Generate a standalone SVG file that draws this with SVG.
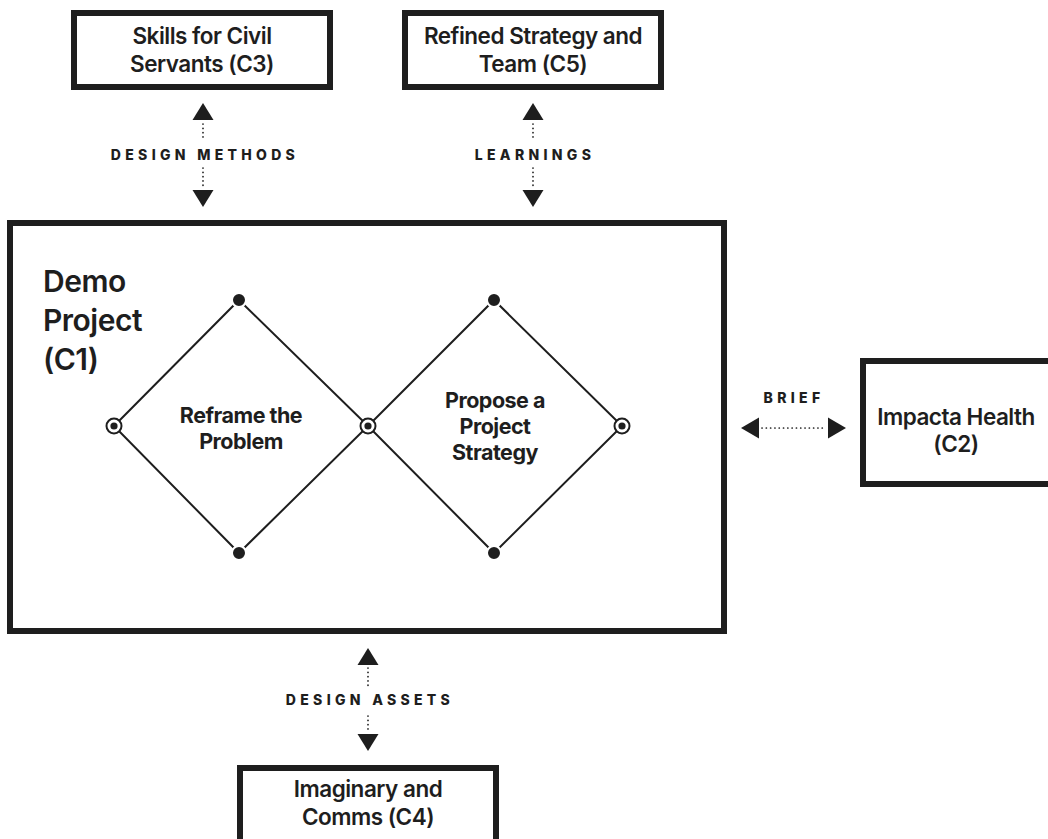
<svg xmlns="http://www.w3.org/2000/svg" width="1048" height="839" viewBox="0 0 1048 839">
  <style>
    .box { fill: #fff; stroke: #1e1e1e; stroke-width: 6; }
    .title { font-family: Inter, "Liberation Sans", sans-serif; font-size: 22.5px; font-weight: 600; fill: #1e1e1e; text-anchor: middle; letter-spacing: -0.5px; }
    .big { font-family: Inter, "Liberation Sans", sans-serif; font-size: 30px; font-weight: 600; fill: #1e1e1e; letter-spacing: -0.5px; }
    .phase { font-family: Inter, "Liberation Sans", sans-serif; font-size: 21.5px; font-weight: 700; fill: #1e1e1e; text-anchor: middle; letter-spacing: -0.5px; }
    .flow { font-family: Inter, "Liberation Sans", sans-serif; font-size: 14px; font-weight: 800; fill: #1e1e1e; text-anchor: middle; letter-spacing: 4.3px; }
    .edge { fill: none; stroke: #1e1e1e; stroke-width: 2; }
    .dots { fill: none; stroke: #1e1e1e; stroke-width: 1.7; stroke-linecap: round; stroke-dasharray: 0.1 4.2; }
    .head { fill: #1e1e1e; }
    .dot { fill: #1e1e1e; stroke: #fff; stroke-width: 2; }
    .ring { fill: #fff; stroke: #1e1e1e; stroke-width: 2; }
  </style>
  <defs>
    <path id="tri-up" class="head" d="M0,0 L10.5,17 L-10.5,17 Z"/>
    <path id="tri-down" class="head" d="M0,0 L10.5,-17 L-10.5,-17 Z"/>
    <path id="tri-left" class="head" d="M0,0 L18,-10.5 L18,10.5 Z"/>
    <path id="tri-right" class="head" d="M0,0 L-18,-10.5 L-18,10.5 Z"/>
    <g id="ring-node">
      <circle class="ring" r="7.5"/>
      <circle class="head" r="3.6"/>
    </g>
  </defs>

  <rect width="1048" height="839" fill="#fff"/>

  <!-- Connectors between the project and its surrounding outputs -->
  <g id="connectors">
    <!-- design methods: C1 <-> C3 -->
    <use href="#tri-up" x="203" y="103"/>
    <line class="dots" x1="203" y1="124" x2="203" y2="138"/>
    <line class="dots" x1="203" y1="168" x2="203" y2="186"/>
    <use href="#tri-down" x="203" y="207"/>
    <text class="flow" x="205" y="160">DESIGN METHODS</text>

    <!-- learnings: C1 <-> C5 -->
    <use href="#tri-up" x="533" y="103"/>
    <line class="dots" x1="533" y1="124" x2="533" y2="138"/>
    <line class="dots" x1="533" y1="168" x2="533" y2="186"/>
    <use href="#tri-down" x="533" y="207"/>
    <text class="flow" x="535" y="160">LEARNINGS</text>

    <!-- brief: C1 <-> C2 -->
    <use href="#tri-left" x="741" y="428"/>
    <line class="dots" x1="762" y1="428" x2="826" y2="428"/>
    <use href="#tri-right" x="846" y="428"/>
    <text class="flow" x="794" y="403">BRIEF</text>

    <!-- design assets: C1 <-> C4 -->
    <use href="#tri-up" x="368" y="648"/>
    <line class="dots" x1="368" y1="668" x2="368" y2="688"/>
    <line class="dots" x1="368" y1="716" x2="368" y2="732"/>
    <use href="#tri-down" x="368" y="751"/>
    <text class="flow" x="370" y="705">DESIGN ASSETS</text>
  </g>

  <g id="c3">
    <rect class="box" x="74" y="13" width="256" height="74"/>
    <text class="title" x="202" y="44">Skills for Civil</text>
    <text class="title" x="202" y="72">Servants (C3)</text>
  </g>

  <g id="c5">
    <rect class="box" x="405" y="13" width="256" height="74"/>
    <text class="title" x="533" y="44">Refined Strategy and</text>
    <text class="title" x="533" y="72">Team (C5)</text>
  </g>

  <g id="c1">
    <rect class="box" x="10" y="223" width="714" height="408"/>
    <text class="big" x="43" y="292">Demo</text>
    <text class="big" x="43" y="331">Project</text>
    <text class="big" x="43" y="370">(C1)</text>

    <!-- double diamond -->
    <path class="edge" d="M114,426 L239,300 L368,426 L239,553 Z"/>
    <path class="edge" d="M368,426 L494,300 L622,426 L494,553 Z"/>
    <circle class="dot" cx="239" cy="300" r="7"/>
    <circle class="dot" cx="239" cy="553" r="7"/>
    <circle class="dot" cx="494" cy="300" r="7"/>
    <circle class="dot" cx="494" cy="553" r="7"/>
    <use href="#ring-node" x="114" y="426"/>
    <use href="#ring-node" x="368" y="426"/>
    <use href="#ring-node" x="622" y="426"/>

    <g id="reframe">
      <text class="phase" x="241" y="423">Reframe the</text>
      <text class="phase" x="241" y="449">Problem</text>
    </g>
    <g id="propose">
      <text class="phase" x="495" y="408">Propose a</text>
      <text class="phase" x="495" y="434">Project</text>
      <text class="phase" x="495" y="460">Strategy</text>
    </g>
  </g>

  <g id="c2">
    <rect class="box" x="863" y="361" width="200" height="123"/>
    <text class="title" x="956" y="425">Impacta Health</text>
    <text class="title" x="956" y="452">(C2)</text>
  </g>

  <g id="c4">
    <rect class="box" x="240" y="768" width="256" height="90"/>
    <text class="title" x="368" y="797">Imaginary and</text>
    <text class="title" x="368" y="825">Comms (C4)</text>
  </g>
</svg>
